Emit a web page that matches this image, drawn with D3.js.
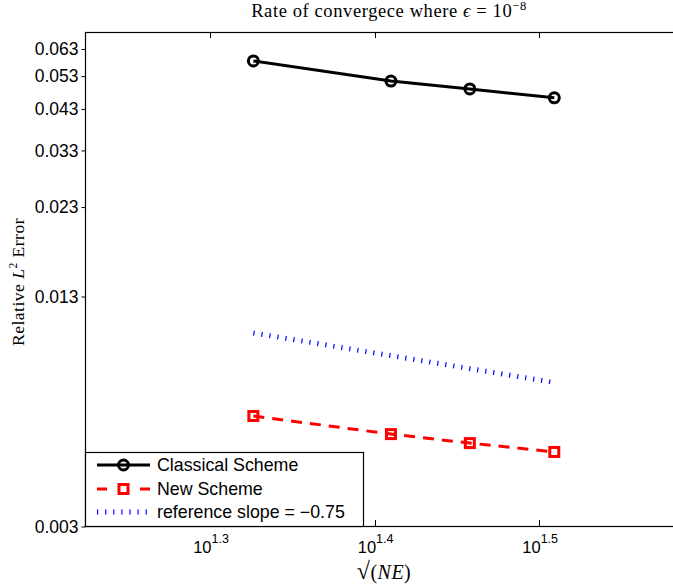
<!DOCTYPE html>
<html>
<head>
<meta charset="utf-8">
<script src="https://cdn.jsdelivr.net/npm/d3@7"></script>
<style>
  body { margin: 0; background: #fff; }
  text { fill: #000; }
</style>
</head>
<body>
<svg id="chart" width="673" height="586"></svg>
<script>
// Convergence data: error against sqrt(NE) on log-log axes
const sqrtNE = [21.2, 25.7, 28.7, 32.3];
const classicalError = [0.0582, 0.0512, 0.0487, 0.0460];
const newSchemeError = [0.00605, 0.00539, 0.00509, 0.00481];
const referenceX = [21.2, 32.3];
const referenceError = [0.01027, 0.00749];
const yTickValues = [0.003, 0.013, 0.023, 0.033, 0.043, 0.053, 0.063];
const xTickExponents = ["1.3", "1.4", "1.5"];
const seriesNames = ["Classical Scheme", "New Scheme", "reference slope = \u22120.75"];

const svg = d3.select("#chart");
const plot = { left: 85, top: 32, right: 689, bottom: 526 };

const x = d3.scaleLog().domain([16.75, 39.0]).range([plot.left, plot.right]);
const y = d3.scaleLog().domain([0.003, 0.07]).range([plot.bottom, plot.top]);

const sansFont = "'Liberation Sans', Arial, sans-serif";
const serifFont = "'Liberation Serif', 'DejaVu Serif', serif";

// Axes frame
svg.append("rect")
  .attr("x", plot.left + 0.5).attr("y", plot.top + 0.5)
  .attr("width", plot.right - plot.left).attr("height", plot.bottom - plot.top)
  .attr("fill", "none").attr("stroke", "#000").attr("stroke-width", 1.2);

// Y axis: outward ticks with fixed decimal labels
const yAxis = d3.axisLeft(y)
  .tickValues(yTickValues)
  .tickFormat(d3.format(".3f"))
  .tickSize(4)
  .tickPadding(3);
const gy = svg.append("g").attr("transform", `translate(${plot.left + 0.5},0.5)`).call(yAxis);
gy.select(".domain").remove();
gy.selectAll("text").attr("font-family", sansFont).attr("font-size", 17.5);

// X axis: inward ticks on bottom and top, power-of-ten labels
const xTickValues = xTickExponents.map(e => Math.pow(10, +e));
const xTicks = svg.append("g");
xTicks.selectAll("line.bottom").data(xTickValues).enter().append("line")
  .attr("x1", d => Math.round(x(d)) + 0.5).attr("x2", d => Math.round(x(d)) + 0.5)
  .attr("y1", plot.bottom).attr("y2", plot.bottom - 6)
  .attr("stroke", "#000");
xTicks.selectAll("line.top").data(xTickValues).enter().append("line")
  .attr("x1", d => Math.round(x(d)) + 0.5).attr("x2", d => Math.round(x(d)) + 0.5)
  .attr("y1", plot.top).attr("y2", plot.top + 6)
  .attr("stroke", "#000");
const xLabels = xTicks.selectAll("text").data(xTickExponents).enter().append("text")
  .attr("x", d => x(Math.pow(10, +d)) + 1)
  .attr("y", 553)
  .attr("text-anchor", "middle")
  .attr("font-family", sansFont)
  .attr("font-size", 16.5);
xLabels.append("tspan").text("10");
xLabels.append("tspan").attr("dy", -10).attr("font-size", 12.5).text(d => d);

// Reference slope line (fine blue dots)
const line = d3.line().x(d => x(d[0])).y(d => y(d[1]));
svg.append("path")
  .datum(referenceX.map((v, i) => [v, referenceError[i]]))
  .attr("d", line)
  .attr("fill", "none")
  .attr("stroke", "#0000ff")
  .attr("stroke-width", 5)
  .attr("stroke-dasharray", "1.2 6.9");

// New scheme: red dashed with square markers
const newPts = sqrtNE.map((v, i) => [v, newSchemeError[i]]);
svg.append("path")
  .datum(newPts)
  .attr("d", line)
  .attr("fill", "none")
  .attr("stroke", "#ff0000")
  .attr("stroke-width", 3)
  .attr("stroke-dasharray", "11 8");
svg.selectAll("rect.sq").data(newPts).enter().append("rect")
  .attr("class", "sq")
  .attr("x", d => x(d[0]) - 4.5).attr("y", d => y(d[1]) - 4.5)
  .attr("width", 9).attr("height", 9)
  .attr("fill", "none").attr("stroke", "#ff0000").attr("stroke-width", 3);

// Classical scheme: black solid with circle markers
const classicalPts = sqrtNE.map((v, i) => [v, classicalError[i]]);
svg.append("path")
  .datum(classicalPts)
  .attr("d", line)
  .attr("fill", "none")
  .attr("stroke", "#000")
  .attr("stroke-width", 3);
svg.selectAll("circle.pt").data(classicalPts).enter().append("circle")
  .attr("class", "pt")
  .attr("cx", d => x(d[0])).attr("cy", d => y(d[1]))
  .attr("r", 5)
  .attr("fill", "none").attr("stroke", "#000").attr("stroke-width", 3);

// Legend
const legend = svg.append("g");
legend.append("rect")
  .attr("x", plot.left + 0.5).attr("y", 452.5)
  .attr("width", 278).attr("height", plot.bottom - 452)
  .attr("fill", "#fff").attr("stroke", "#000").attr("stroke-width", 1.2);
const rowY = [465, 489, 512];
const sx0 = 97, sx1 = 150, sxm = (sx0 + sx1) / 2;
// Row 1
legend.append("line").attr("x1", sx0).attr("x2", sx1).attr("y1", rowY[0]).attr("y2", rowY[0])
  .attr("stroke", "#000").attr("stroke-width", 3);
legend.append("circle").attr("cx", sxm).attr("cy", rowY[0]).attr("r", 5)
  .attr("fill", "none").attr("stroke", "#000").attr("stroke-width", 3);
// Row 2
legend.append("line").attr("x1", sx0).attr("x2", sx1).attr("y1", rowY[1]).attr("y2", rowY[1])
  .attr("stroke", "#ff0000").attr("stroke-width", 3).attr("stroke-dasharray", "10 33");
legend.append("rect").attr("x", sxm - 4.5).attr("y", rowY[1] - 4.5).attr("width", 9).attr("height", 9)
  .attr("fill", "none").attr("stroke", "#ff0000").attr("stroke-width", 3);
// Row 3
legend.append("line").attr("x1", sx0).attr("x2", sx1).attr("y1", rowY[2]).attr("y2", rowY[2])
  .attr("stroke", "#0000ff").attr("stroke-width", 5).attr("stroke-dasharray", "1.2 6.9");
legend.selectAll("text.name").data(seriesNames).enter().append("text")
  .attr("class", "name")
  .attr("x", 157).attr("y", (d, i) => rowY[i] + 6)
  .attr("font-family", sansFont).attr("font-size", 17.8)
  .text(d => d);

// Title
const title = svg.append("text")
  .attr("x", 389).attr("y", 17)
  .attr("text-anchor", "middle")
  .attr("font-family", serifFont).attr("font-size", 18.5)
  .attr("letter-spacing", 0.6);
title.append("tspan").text("Rate of convergece where ");
title.append("tspan").attr("font-style", "italic").text("\u03f5");
title.append("tspan").text(" = 10");
title.append("tspan").attr("dy", -7).attr("font-size", 12.5).text("\u22128");

// X label
const xl = svg.append("text")
  .attr("x", 384).attr("y", 579)
  .attr("text-anchor", "middle")
  .attr("font-family", serifFont).attr("font-size", 20)
  .attr("letter-spacing", 0.5);
xl.append("tspan").attr("font-size", 24).text("\u221a");
xl.append("tspan").text("(");
xl.append("tspan").attr("font-style", "italic").text("NE");
xl.append("tspan").text(")");

// Y label
const yl = svg.append("text")
  .attr("transform", `translate(24,${(plot.top + plot.bottom) / 2 + 3}) rotate(-90)`)
  .attr("text-anchor", "middle")
  .attr("font-family", serifFont).attr("font-size", 17.5)
  .attr("letter-spacing", 0.5);
yl.append("tspan").text("Relative ");
yl.append("tspan").attr("font-style", "italic").text("L");
yl.append("tspan").attr("dy", -7).attr("font-size", 11.5).text("2");
yl.append("tspan").attr("dy", 7).text(" Error");
</script>
</body>
</html>
